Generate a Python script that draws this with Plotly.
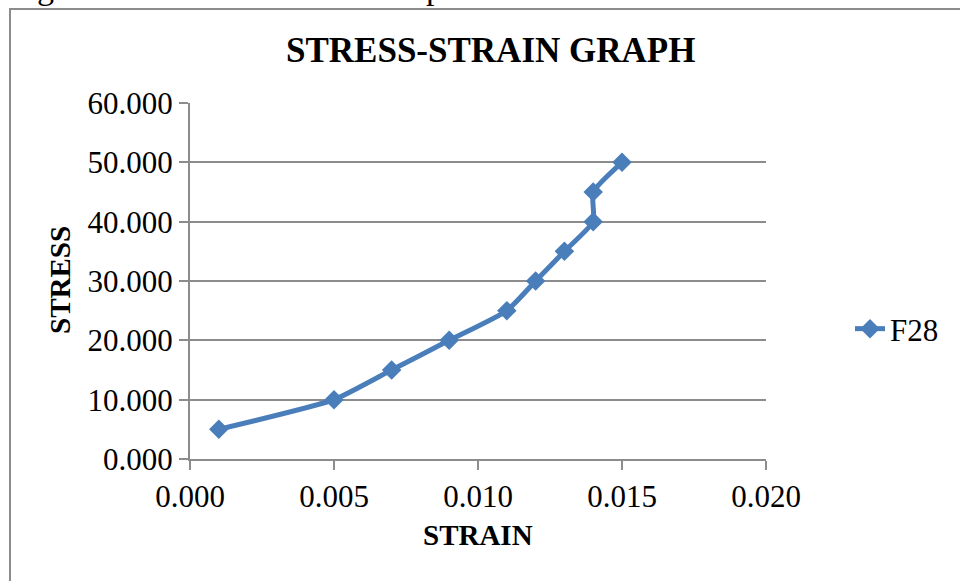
import plotly.graph_objects as go

strain = [0.001, 0.005, 0.007, 0.009, 0.011, 0.012, 0.013, 0.014, 0.014, 0.015]
stress = [5, 10, 15, 20, 25, 30, 35, 40, 45, 50]
series_name = "F28"
x_ticks = [0.000, 0.005, 0.010, 0.015, 0.020]
y_ticks = [0, 10, 20, 30, 40, 50, 60]

BLUE = "#4A7EBB"
GRID = "#8C8C8C"
FONT = "Liberation Serif, Times New Roman, serif"

W, H = 960, 581
L, R, T, B = 190, 194, 103, 122
pw, ph = W - L - R, H - T - B

def px(x):
    return (x - L) / pw

def py(y):
    return (H - B - y) / ph

tick_font = dict(family=FONT, size=31, color="black")

fig = go.Figure()
fig.add_trace(go.Scatter(
    x=strain, y=stress, name=series_name, mode="lines+markers",
    line=dict(color=BLUE, width=5, shape="spline", smoothing=0.5),
    marker=dict(symbol="diamond", size=15, color=BLUE),
))

fig.update_layout(
    width=W, height=H,
    margin=dict(l=L, r=R, t=T, b=B),
    paper_bgcolor="white", plot_bgcolor="white",
    font=dict(family=FONT, size=29, color="black"),
    showlegend=True,
    legend=dict(x=px(850), y=py(329), xanchor="left", yanchor="middle",
                font=dict(family=FONT, size=31), bgcolor="rgba(0,0,0,0)",
                itemwidth=30, tracegroupgap=0),
    xaxis=dict(range=[0, 0.02], tickvals=x_ticks,
               ticktext=[f"{v:.3f}" for v in x_ticks],
               showgrid=False, zeroline=False,
               showline=True, linecolor=GRID, linewidth=2,
               ticks="outside", ticklen=9, tickwidth=2, tickcolor=GRID,
               tickfont=tick_font),
    yaxis=dict(range=[0, 60], tickvals=y_ticks,
               ticktext=[f"{v:.3f}" for v in y_ticks],
               showgrid=True, gridcolor=GRID, gridwidth=2, zeroline=False,
               showline=True, linecolor=GRID, linewidth=2,
               ticks="outside", ticklen=9, tickwidth=2, tickcolor=GRID,
               tickfont=tick_font),
    annotations=[
        dict(text="<b>STRESS-STRAIN GRAPH</b>", x=px(490), y=py(50),
             xref="paper", yref="paper", showarrow=False,
             xanchor="center", yanchor="middle", font=dict(size=35)),
        dict(text="<b>STRAIN</b>", x=px(478), y=py(535),
             xref="paper", yref="paper", showarrow=False,
             xanchor="center", yanchor="middle", font=dict(size=29)),
        dict(text="<b>STRESS</b>", x=px(60), y=py(280), textangle=-90,
             xref="paper", yref="paper", showarrow=False,
             xanchor="center", yanchor="middle", font=dict(size=29)),
        dict(text="g", x=px(45), y=py(-12),
             xref="paper", yref="paper", showarrow=False,
             xanchor="center", yanchor="middle", font=dict(size=34)),
        dict(text="p", x=px(434), y=py(-12),
             xref="paper", yref="paper", showarrow=False,
             xanchor="center", yanchor="middle", font=dict(size=34)),
    ],
    shapes=[
        dict(type="rect", xref="paper", yref="paper",
             x0=px(10), y0=py(700), x1=px(1100), y1=py(9),
             line=dict(color="#8C8C8C", width=2), fillcolor="rgba(0,0,0,0)",
             layer="below"),
    ],
)

fig.write_html("out.html")
